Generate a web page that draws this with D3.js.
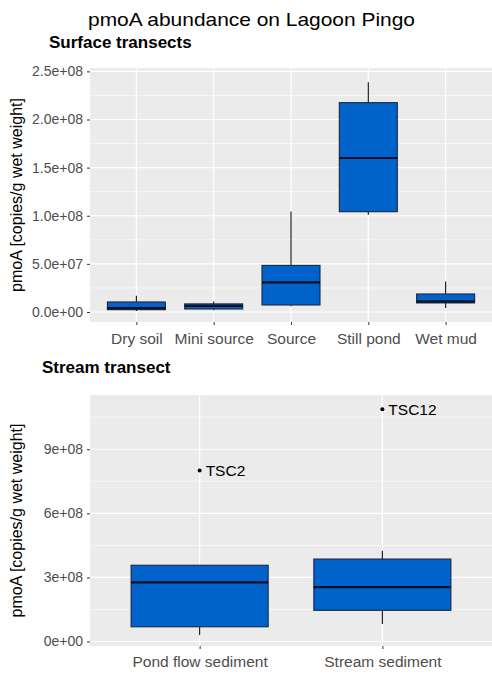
<!DOCTYPE html>
<html><head><meta charset="utf-8">
<script src="https://d3js.org/d3.v7.min.js"></script>
<style>body{margin:0;background:#fff}svg{display:block;font-family:"Liberation Sans",Arial,sans-serif}</style>
</head><body>
<script>
// ---- data ----
const surfaceCategories = ["Dry soil","Mini source","Source","Still pond","Wet mud"];
const surfaceLow    = [1.0e6, 1.7e6, 6.0e6, 1.01e8, 4.2e6];
const surfaceQ1     = [2.4e6, 3.1e6, 7.3e6, 1.042e8, 9.4e6];
const surfaceMedian = [4.0e6, 6.3e6, 3.08e7, 1.60e8, 1.10e7];
const surfaceQ3     = [1.04e7, 8.4e6, 4.84e7, 2.175e8, 1.87e7];
const surfaceHigh   = [1.7e7, 1.1e7, 1.045e8, 2.386e8, 3.18e7];
const surfaceDomain = [-1.04e7, 2.535e8];
const surfaceTicks  = [0, 5e7, 1e8, 1.5e8, 2e8, 2.5e8];
const surfaceTickLabels = ["0.0e+00","5.0e+07","1.0e+08","1.5e+08","2.0e+08","2.5e+08"];

const streamCategories = ["Pond flow sediment","Stream sediment"];
const streamLow    = [3.0e7, 8.2e7];
const streamQ1     = [6.9e7, 1.46e8];
const streamMedian = [2.77e8, 2.55e8];
const streamQ3     = [3.57e8, 3.86e8];
const streamHigh   = [3.57e8, 4.25e8];
const streamOutliers = [8.0e8, 1.087e9];
const streamOutlierLabels = ["TSC2","TSC12"];
const streamDomain = [-2.1e7, 1.154e9];
const streamTicks  = [0, 3e8, 6e8, 9e8];
const streamTickLabels = ["0e+00","3e+08","6e+08","9e+08"];

const W = 492, H = 675;
const svg = d3.select("body").append("svg").attr("width", W).attr("height", H);

svg.append("text").attr("x", 251.5).attr("y", 25.5).attr("text-anchor","middle")
  .attr("font-size", 19).attr("fill","#000")
  .attr("textLength", 327).attr("lengthAdjust","spacingAndGlyphs")
  .text("pmoA abundance on Lagoon Pingo");

function panel(o) {
  const {top, bottom, left, right, cats, low, q1, med, q3, high, outliers, outLabels, domain, ticks, tickLabels, subtitle, subX, subY, xLabelY} = o;
  svg.append("text").attr("x", subX).attr("y", subY).attr("font-size", 17).attr("font-weight","bold")
    .attr("fill","#000").text(subtitle);
  const y = d3.scaleLinear().domain(domain).range([bottom, top]);
  const x = d3.scalePoint().domain(cats).range([left, right]).padding(0.6);
  const step = x.step();
  const g = svg.append("g");
  g.append("rect").attr("x", left).attr("y", top).attr("width", right-left).attr("height", bottom-top).attr("fill","#ebebeb");
  // minor grid
  const d = ticks[1]-ticks[0];
  const minors = [];
  for (let i = -1; i <= ticks.length; i++) minors.push(ticks[0] + d*i + d/2);
  g.selectAll(".minor").data(minors.filter(v => v > domain[0] && v < domain[1]))
    .enter().append("line").attr("x1", left).attr("x2", right)
    .attr("y1", v => y(v)).attr("y2", v => y(v)).attr("stroke","#fff").attr("stroke-width",0.6);
  g.selectAll(".major").data(ticks).enter().append("line").attr("x1", left).attr("x2", right)
    .attr("y1", v => y(v)).attr("y2", v => y(v)).attr("stroke","#fff").attr("stroke-width",1.2);
  g.selectAll(".vmajor").data(cats).enter().append("line").attr("y1", top).attr("y2", bottom)
    .attr("x1", c => x(c)).attr("x2", c => x(c)).attr("stroke","#fff").attr("stroke-width",1.2);
  // axes
  const ya = d3.axisLeft(y).tickValues(ticks).tickFormat((v,i) => tickLabels[i]).tickSize(3).tickPadding(4);
  const yg = svg.append("g").attr("transform", `translate(${left},0)`).call(ya);
  yg.select(".domain").remove();
  yg.selectAll("line").attr("stroke","#333");
  yg.selectAll("text").attr("font-size", 14).attr("fill","#4d4d4d").attr("font-family","Liberation Sans, Arial, sans-serif");
  const xa = d3.axisBottom(x).tickSize(3).tickPadding(4);
  const xg = svg.append("g").attr("transform", `translate(0,${bottom})`).call(xa);
  xg.select(".domain").remove();
  xg.selectAll("line").attr("stroke","#333");
  xg.selectAll("text").attr("font-size", 15.5).attr("fill","#4d4d4d").attr("font-family","Liberation Sans, Arial, sans-serif")
    .attr("dy", null).attr("y", xLabelY - bottom);
  // y label
  svg.append("text").attr("transform", `translate(22,${(top+bottom)/2}) rotate(-90)`)
    .attr("text-anchor","middle").attr("font-size",16).attr("fill","#000").text("pmoA [copies/g wet weight]");
  // boxes
  const bw = step * 0.75;
  cats.forEach((c, i) => {
    const cx = x(c);
    g.append("line").attr("x1", cx).attr("x2", cx).attr("y1", y(high[i])).attr("y2", y(q3[i])).attr("stroke","#111").attr("stroke-width",1.1);
    g.append("line").attr("x1", cx).attr("x2", cx).attr("y1", y(q1[i])).attr("y2", y(low[i])).attr("stroke","#111").attr("stroke-width",1.1);
    g.append("rect").attr("x", cx - bw/2).attr("y", y(q3[i])).attr("width", bw).attr("height", y(q1[i]) - y(q3[i]))
      .attr("fill","#0063cc").attr("stroke","#1a2640").attr("stroke-width",1.1);
    g.append("line").attr("x1", cx - bw/2).attr("x2", cx + bw/2).attr("y1", y(med[i])).attr("y2", y(med[i]))
      .attr("stroke","#0a0f1e").attr("stroke-width",2.2);
    if (outliers) {
      g.append("circle").attr("cx", cx).attr("cy", y(outliers[i])).attr("r", 2).attr("fill","#000");
      g.append("text").attr("x", cx + 6).attr("y", y(outliers[i])).attr("dy","0.36em")
        .attr("font-size", 15.5).attr("fill","#000").text(outLabels[i]);
    }
  });
}

panel({top:68, bottom:322, left:90, right:492, cats:surfaceCategories, low:surfaceLow, q1:surfaceQ1,
  med:surfaceMedian, q3:surfaceQ3, high:surfaceHigh, domain:surfaceDomain, ticks:surfaceTicks, tickLabels:surfaceTickLabels,
  subtitle:"Surface transects", subX:49, subY:47.5, xLabelY:344});
panel({top:395, bottom:646, left:90, right:492, cats:streamCategories, low:streamLow, q1:streamQ1,
  med:streamMedian, q3:streamQ3, high:streamHigh, outliers:streamOutliers, outLabels:streamOutlierLabels,
  domain:streamDomain, ticks:streamTicks, tickLabels:streamTickLabels, subtitle:"Stream transect", subX:42, subY:373, xLabelY:667});
</script>
</body></html>
